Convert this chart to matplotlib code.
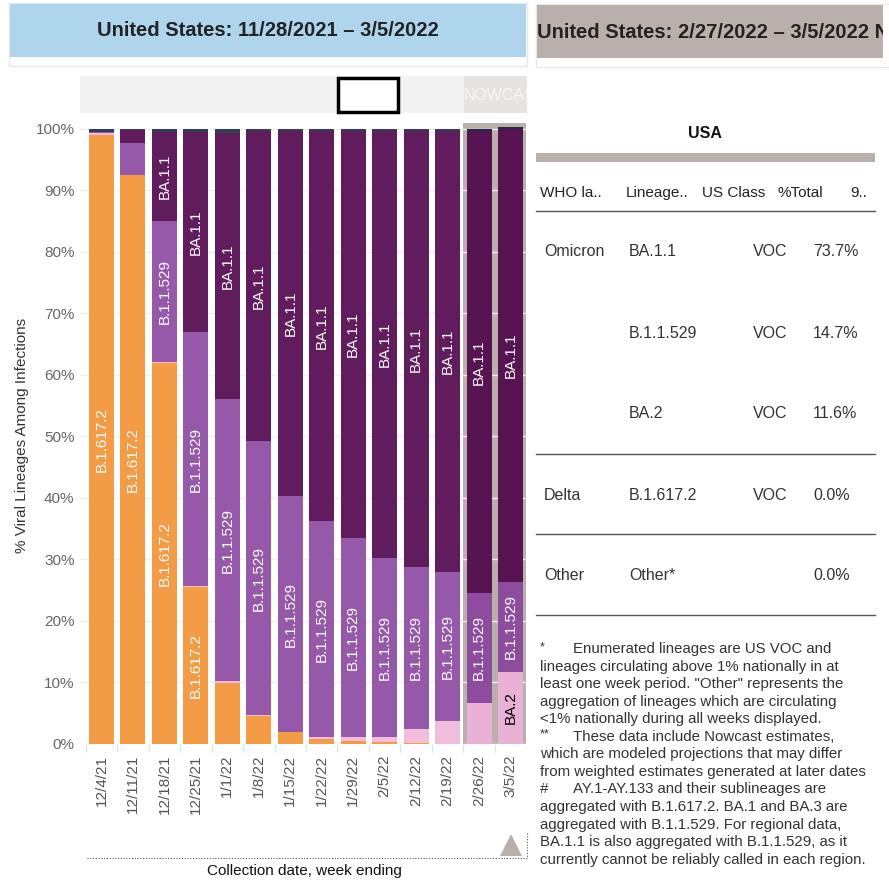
import matplotlib.pyplot as plt
from matplotlib.patches import Rectangle, Polygon

plt.rcParams['font.family'] = ['Liberation Sans', 'DejaVu Sans']

# weekly proportions (%), bottom -> top
weeks = ["12/4/21", "12/11/21", "12/18/21", "12/25/21", "1/1/22", "1/8/22", "1/15/22",
         "1/22/22", "1/29/22", "2/5/22", "2/12/22", "2/19/22", "2/26/22", "3/5/22"]
lineages = ["B.1.617.2", "BA.2", "B.1.1.529", "BA.1.1", "Other"]
delta  = [98.9, 92.4, 61.8, 25.4, 9.9, 4.4, 1.8, 0.7, 0.4, 0.2, 0.1, 0.0, 0.0, 0.0]
ba2    = [0.3, 0.0, 0.2, 0.2, 0.2, 0.2, 0.1, 0.3, 0.7, 0.9, 2.3, 3.7, 6.6, 11.6]
b11529 = [0.3, 5.2, 23.0, 41.3, 45.9, 44.6, 38.3, 35.2, 32.3, 29.1, 26.3, 24.2, 17.9, 14.7]
ba11   = [0.0, 2.1, 14.5, 32.5, 43.2, 50.4, 59.4, 63.4, 66.2, 69.4, 70.9, 71.7, 75.1, 73.7]
other  = [0.5, 0.3, 0.5, 0.6, 0.8, 0.4, 0.4, 0.4, 0.4, 0.4, 0.4, 0.4, 0.4, 0.3]
nowcast = [False] * 12 + [True] * 2

# table on the right (week ending 3/5/2022)
who_label  = ["Omicron", "", "", "Delta", "Other"]
table_lin  = ["BA.1.1", "B.1.1.529", "BA.2", "B.1.617.2", "Other*"]
us_class   = ["VOC", "VOC", "VOC", "VOC", ""]
pct_total  = ["73.7%", "14.7%", "11.6%", "0.0%", "0.0%"]
table_cols = ["WHO la..", "Lineage..", "US Class", "%Total", "9.."]

series = [delta, ba2, b11529, ba11, other]
colors = ["#f39c45", "#f2bcdd", "#9658a8", "#611c5e", "#2f3f56"]
colors_now = ["#e8913e", "#e8b1d5", "#8d4c9e", "#571352", "#232b45"]
label_min = [12, 8, 12, 9, 1000]
label_col = ["white", "black", "white", "white", "white"]

W, H = 889, 890
fig = plt.figure(figsize=(W / 100, H / 100), dpi=100)

# background layer in pixel coordinates for the dashboard decorations
bg = fig.add_axes([0, 0, 1, 1], zorder=0)
bg.set_xlim(0, W)
bg.set_ylim(H, 0)
bg.axis("off")

bg.add_patch(Rectangle((9, 3), 518, 63, facecolor="white", edgecolor="#e8e8e8", lw=1))
bg.add_patch(Rectangle((10, 4), 516, 53, facecolor="#aed5ec", edgecolor="none"))
bg.text(268, 31, "United States: 11/28/2021 \u2013 3/5/2022", ha="center", va="center",
        fontsize=14.5, fontweight="bold", color="#222222")
bg.add_patch(Rectangle((536, 4), 360, 63, facecolor="white", edgecolor="#e8e8e8", lw=1))
rh = Rectangle((537, 5), 346, 53, facecolor="#bab0ab", edgecolor="none")
bg.add_patch(rh)
t = bg.text(537, 32, "United States: 2/27/2022 \u2013 3/5/2022 N", ha="left", va="center",
            fontsize=14.5, fontweight="bold", color="#222222", clip_on=True)
t.set_clip_path(rh)

# filter strip above the bars
bg.add_patch(Rectangle((80, 76), 384, 37, facecolor="#f3f3f3", edgecolor="none"))
nc = Rectangle((464, 76), 63, 37, facecolor="#e6e3e0", edgecolor="none")
bg.add_patch(nc)
t = bg.text(464, 95, "NOWCAST", ha="left", va="center", fontsize=11.5, color="#f7f7f7",
            clip_on=True)
t.set_clip_path(nc)
bg.add_patch(Rectangle((337.5, 77.5), 60, 34, facecolor="white", edgecolor="black", lw=2.5))

# main stacked bar chart
ax = fig.add_axes([80.1 / W, 1 - 743.5 / H, (526.2 - 80.1) / W, (743.5 - 123) / H], zorder=1)
ax.patch.set_alpha(0)
x = list(range(len(weeks)))
ax.axvspan(11.5, 13.5, color="#bab0ab", lw=0, zorder=0.5)

bottoms = [0.0] * len(weeks)
for k, vals in enumerate(series):
    cols = [colors_now[k] if n else colors[k] for n in nowcast]
    ax.bar(x, vals, bottom=bottoms, width=0.795, color=cols, lw=0, zorder=2)
    for j, v in enumerate(vals):
        if v >= label_min[k]:
            ax.text(j, bottoms[j] + v / 2, lineages[k], rotation=90, ha="center", va="center",
                    fontsize=11, color=label_col[k], zorder=3)
    bottoms = [b + v for b, v in zip(bottoms, vals)]

ax.set_xlim(-0.68, 13.5)
ax.set_ylim(0, 100.9)
ax.set_yticks(range(0, 101, 10))
ax.set_yticklabels([f"{v}%" for v in range(0, 101, 10)])
ax.yaxis.grid(True, color="#eeeeee", lw=1, zorder=0)
ax.set_axisbelow(True)
ax.set_xticks(x)
ax.set_xticklabels(weeks, rotation=90)
ax.set_xticks([i - 0.5 for i in range(len(weeks))], minor=True)
ax.tick_params(axis="y", length=0, pad=4, labelsize=11, labelcolor="#666666")
ax.tick_params(axis="x", which="major", length=0, pad=8, labelsize=11, labelcolor="#555555")
ax.tick_params(axis="x", which="minor", length=6, color="#e2e2e2", width=1)
for s in ax.spines.values():
    s.set_visible(False)

bg.text(22, 435, "% Viral Lineages Among Infections", rotation=90, ha="center", va="center",
        fontsize=11, color="#333333")
bg.text(304, 871, "Collection date, week ending", ha="center", va="center",
        fontsize=11, color="#111111")

# scroll marker and selection outline
bg.add_patch(Polygon([(500, 856), (522, 856), (511, 834)], closed=True,
                     facecolor="#bab0ab", edgecolor="none"))
bg.plot([87, 527], [858, 858], color="#555555", lw=0.8, ls=(0, (1, 1.5)))
bg.plot([527, 527], [833, 858], color="#555555", lw=0.8, ls=(0, (1, 1.5)))

# right-hand table
bg.text(705, 133, "USA", ha="center", va="center", fontsize=11.5, fontweight="bold", color="#111111")
bg.add_patch(Rectangle((536, 153), 339, 9, facecolor="#bab0ab", edgecolor="none"))
col_x = [540, 626, 702, 778, 850]
for cx, name in zip(col_x, table_cols):
    bg.text(cx, 193, name, ha="left", va="center", fontsize=11, color="#222222")
for ly in [211, 454, 534, 615]:
    bg.plot([536, 875], [ly, ly], color="#555555", lw=1)
row_y = [252, 333, 414, 496, 576]
for ry, w, ln, uc, p in zip(row_y, who_label, table_lin, us_class, pct_total):
    bg.text(544, ry, w, ha="left", va="center", fontsize=11.5, color="#333333")
    bg.text(629, ry, ln, ha="left", va="center", fontsize=11.5, color="#333333")
    bg.text(753, ry, uc, ha="left", va="center", fontsize=11.5, color="#333333")
    bg.text(813, ry, p, ha="left", va="center", fontsize=11.5, color="#333333")

# footnotes
notes = [
    ("*", "Enumerated lineages are US VOC and"),
    ("", "lineages circulating above 1% nationally in at"),
    ("", "least one week period. \"Other\" represents the"),
    ("", "aggregation of lineages which are circulating"),
    ("", "<1% nationally during all weeks displayed."),
    ("**", "These data include Nowcast estimates,"),
    ("", "which are modeled projections that may differ"),
    ("", "from weighted estimates generated at later dates"),
    ("#", "AY.1-AY.133 and their sublineages are"),
    ("", "aggregated with B.1.617.2. BA.1 and BA.3 are"),
    ("", "aggregated with B.1.1.529. For regional data,"),
    ("", "BA.1.1 is also aggregated with B.1.1.529, as it"),
    ("", "currently cannot be reliably called in each region."),
]
for i, (mark, line) in enumerate(notes):
    ny = 649 + 17.55 * i
    if mark:
        bg.text(540, ny - 2 if mark != "#" else ny, mark, ha="left", va="center",
                fontsize=9 if mark != "#" else 11, color="#333333")
        bg.text(573, ny, line, ha="left", va="center", fontsize=10.8, color="#333333")
    else:
        bg.text(540, ny, line, ha="left", va="center", fontsize=10.8, color="#333333")

fig.savefig("out.png", dpi=100)
